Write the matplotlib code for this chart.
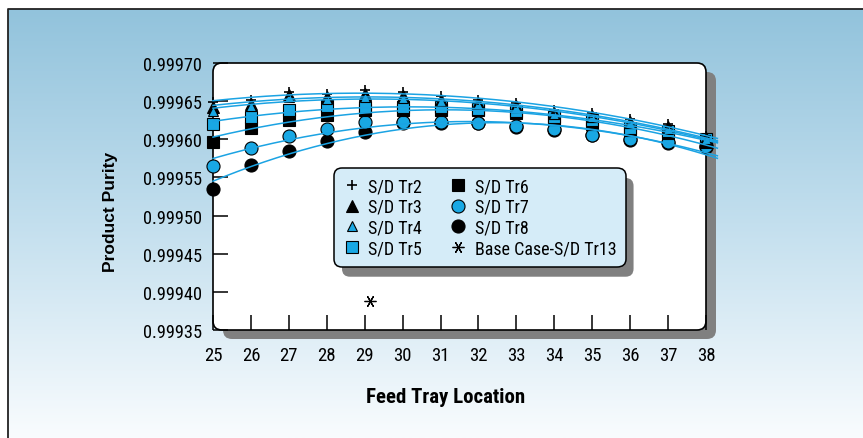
import numpy as np
import matplotlib
matplotlib.use("Agg")
import matplotlib.pyplot as plt
from matplotlib.patches import FancyBboxPatch
from matplotlib.transforms import IdentityTransform
from matplotlib.colors import LinearSegmentedColormap

NARROW = ['Roboto Condensed', 'Archivo Narrow', 'Liberation Sans Narrow', 'Liberation Sans', 'DejaVu Sans']
plt.rcParams['font.family'] = NARROW

# ---------------- data ----------------
trays = [25, 26, 27, 28, 29, 30, 31, 32, 33, 34, 35, 36, 37, 38]
tr2 = [0.999649, 0.999652, 0.999662, 0.999660, 0.999664, 0.999662, 0.999657,
       0.999651, 0.999648, 0.999639, 0.999635, 0.999627, 0.999620, 0.999604]
tr3 = [0.999642, 0.999646, 0.999658, 0.999655, 0.999659, 0.999657, 0.999652,
       0.999648, 0.999644, 0.999635, 0.999631, 0.999623, 0.999616, 0.999602]
tr4 = [0.999637, 0.999644, 0.999655, 0.999653, 0.999655, 0.999654, 0.999650,
       0.999646, 0.999642, 0.999633, 0.999629, 0.999621, 0.999614, 0.999601]
tr5 = [0.999620, 0.999629, 0.999639, 0.999643, 0.999642, 0.999642, 0.999642,
       0.999640, 0.999637, 0.999629, 0.999625, 0.999615, 0.999611, 0.999601]
tr6 = [0.999597, 0.999615, 0.999625, 0.999632, 0.999638, 0.999639, 0.999638,
       0.999639, 0.999634, 0.999626, 0.999620, 0.999612, 0.999608, 0.999596]
tr7 = [0.999565, 0.999588, 0.999604, 0.999614, 0.999623, 0.999623, 0.999623,
       0.999622, 0.999617, 0.999613, 0.999606, 0.999600, 0.999596, 0.999591]
tr8 = [0.999535, 0.999566, 0.999584, 0.999598, 0.999610, 0.999621, 0.999622,
       0.999621, 0.999616, 0.999612, 0.999605, 0.999599, 0.999595, 0.999590]
base_x = [29.15]
base_y = [0.999388]

labels = ["S/D Tr2", "S/D Tr3", "S/D Tr4", "S/D Tr5",
          "S/D Tr6", "S/D Tr7", "S/D Tr8", "Base Case-S/D Tr13"]
yticks = [0.99935, 0.99940, 0.99945, 0.99950, 0.99955, 0.99960, 0.99965, 0.99970]

# ---------------- style ----------------
BLUE = '#19a8e4'
LINE = '#1ba3e3'
W, H = 863, 439
fig = plt.figure(figsize=(W / 100, H / 100), dpi=100)

# background gradient panel
bg = fig.add_axes([0, 0, 1, 1])
bg.set_xlim(0, W)
bg.set_ylim(0, H)
bg.axis('off')
bg.set_zorder(-5)
grad = np.linspace(0, 1, 256).reshape(-1, 1)
cmap = LinearSegmentedColormap.from_list('g', ['#92c3dc', '#c3dfee', '#f9fcfe'])
bg.imshow(grad, cmap=cmap, extent=(8, W, 0, H - 10), aspect='auto', origin='upper')
bg.plot([8, 8, W], [0, H - 10, H - 10], color='#222222', lw=1.3, solid_capstyle='butt')

# main axes
L, R, T, B = 213, 706, 64, 331
ax = fig.add_axes([L / W, (H - B) / H, (R - L) / W, (B - T) / H])
ax.set_zorder(2)
ax.patch.set_visible(False)
for s in ax.spines.values():
    s.set_visible(False)

# axes shadow and rounded frame
shadow = FancyBboxPatch((L + 10, H - B - 9), R - L, B - T,
                        boxstyle='round,pad=0,rounding_size=9',
                        transform=IdentityTransform(), facecolor='#808080',
                        edgecolor='none', zorder=1)
fig.add_artist(shadow)
face = FancyBboxPatch((L, H - B), R - L, B - T, boxstyle='round,pad=0,rounding_size=9',
                      transform=IdentityTransform(), facecolor='white',
                      edgecolor='none', zorder=0, clip_on=False)
ax.add_artist(face)
edge = FancyBboxPatch((L, H - B), R - L, B - T, boxstyle='round,pad=0,rounding_size=9',
                      transform=IdentityTransform(), facecolor='none',
                      edgecolor='black', lw=1.2, zorder=2.6, clip_on=False)
ax.add_artist(edge)

series = [
    (tr8, 6, dict(marker='o', ms=9.4, mfc='black', mec='black', mew=0.8)),
    (tr7, 5, dict(marker='o', ms=9.4, mfc=BLUE, mec='black', mew=0.8)),
    (tr6, 4, dict(marker='s', ms=8.6, mfc='black', mec='black', mew=0.8)),
    (tr5, 3, dict(marker='s', ms=8.6, mfc=BLUE, mec='black', mew=0.8)),
    (tr3, 1, dict(marker='^', ms=9.0, mfc='black', mec='black', mew=0.8)),
    (tr4, 2, dict(marker='^', ms=7.4, mfc=BLUE, mec='black', mew=0.8)),
    (tr2, 0, dict(marker='+', ms=7.0, mfc='black', mec='black', mew=1.2)),
]
handles = [None] * 8
xx = np.linspace(25, 38.3, 200)
for k, (vals, idx, st) in enumerate(series):
    h, = ax.plot(trays, vals, linestyle='none', zorder=3 + k * 0.01, clip_on=False, **st)
    handles[idx] = h
    coef = np.polyfit(trays, vals, 2)
    ax.plot(xx, np.polyval(coef, xx), color=LINE, lw=1.1, zorder=3.5, clip_on=False)

hb, = ax.plot(base_x, base_y, linestyle='none', marker=(6, 2, 90), ms=8.5,
              mec='black', mew=0.9, zorder=3)
handles[7] = hb

ax.set_xlim(25, 38)
ax.set_ylim(0.99935, 0.99970)
ax.set_xticks(trays)
ax.set_xticklabels([str(t) for t in trays])
ax.set_yticks(yticks)
ax.set_yticklabels(['%.5f' % v for v in yticks])
ax.tick_params(axis='both', direction='in', length=10.8, width=1.1, color='black')
ax.tick_params(axis='x', pad=11.5, labelsize=13.5)
ax.tick_params(axis='y', pad=8, labelsize=13.2)

fig.text(446 / W, 1 - 398 / H, 'Feed Tray Location', fontsize=15, fontweight='bold',
         ha='center', va='center', family=NARROW)
fig.text(110 / W, 1 - 212 / H, 'Product Purity', fontsize=12.5, fontweight='bold',
         rotation=90, ha='center', va='center', family=['Liberation Sans', 'DejaVu Sans'])

leg = ax.legend(handles, labels, ncol=2, loc='upper left',
                bbox_to_anchor=(334 / W, 1 - 169 / H), bbox_transform=fig.transFigure,
                borderaxespad=0, fontsize=13, frameon=True, fancybox=True,
                facecolor='#d5ecf8', edgecolor='black', framealpha=1,
                handlelength=1.0, handletextpad=0.41, columnspacing=1.5,
                borderpad=0.5, labelspacing=0.16)
leg.get_frame().set_linewidth(1.1)
leg.get_frame().set_boxstyle('round', pad=0, rounding_size=0.45)
leg.set_zorder(6)

fig.canvas.draw()
bb = leg.get_window_extent()
lshadow = FancyBboxPatch((bb.x0 + 8, bb.y0 - 10), bb.width, bb.height,
                         boxstyle='round,pad=0,rounding_size=8',
                         transform=IdentityTransform(), facecolor='#808080',
                         edgecolor='none', zorder=5.5, clip_on=False)
ax.add_artist(lshadow)

fig.savefig('out.png', dpi=100)
